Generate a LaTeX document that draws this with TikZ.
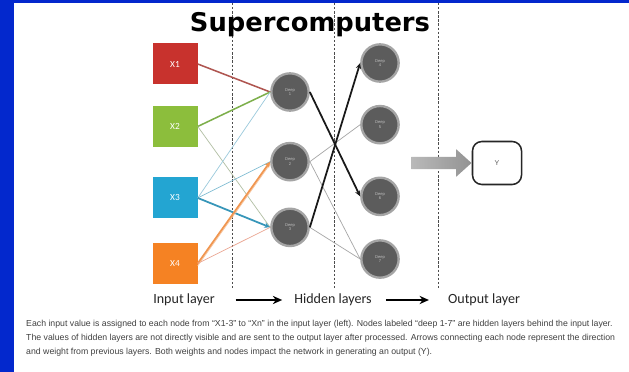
\documentclass[tikz,border=0pt]{standalone}
\usepackage{fontspec}
\setmainfont{Liberation Sans}
\newfontfamily\titlefont{DejaVu Sans}
\newfontfamily\layerfont{Carlito}
\usetikzlibrary{shapes.arrows, arrows.meta, positioning}
\definecolor{frameblue}{RGB}{3,40,205}
\definecolor{inred}{RGB}{200,50,45}
\definecolor{ingreen}{RGB}{140,190,60}
\definecolor{incyan}{RGB}{35,165,210}
\definecolor{inorange}{RGB}{245,130,35}
\definecolor{deepgray}{RGB}{92,92,92}
\definecolor{linkred}{RGB}{175,85,80}
\definecolor{linkgreen}{RGB}{125,175,75}
\definecolor{linkblue}{RGB}{55,150,185}
\definecolor{linkorange}{RGB}{240,150,80}
\definecolor{linksalmon}{RGB}{235,165,145}
\tikzstyle{inbox} = [rectangle, minimum width=1.35cm, minimum height=1.23cm, inner sep=0pt, text=white, font=\layerfont\fontsize{8}{9}\selectfont]
\tikzstyle{deep} = [circle, minimum size=1.12cm, inner sep=0pt, fill=deepgray, draw=deepgray!55, line width=2pt, text=gray!50, align=center, font=\fontsize{3.5}{3.6}\selectfont]
\tikzstyle{link} = [line width=1.3pt]
\tikzstyle{faint} = [line width=0.6pt]
\tikzstyle{arrow} = [line width=1.5pt, -{Stealth[length=5pt,width=4.5pt]}]
\tikzstyle{layer} = [font=\layerfont\fontsize{12}{14}\selectfont, text=black!85]
\tikzstyle{caption} = [font=\fontsize{7.45}{9}\selectfont, text=black!75, anchor=base west, inner sep=0pt]
\tikzstyle{sep} = [gray!60!black, line width=0.5pt, dash pattern=on 2pt off 1.5pt]

\begin{document}
\begin{tikzpicture}[x=0.03cm, y=-0.03cm]
    \useasboundingbox (0,0) rectangle (629,372);
    \fill [frameblue] (0,0) rectangle (629,372);
    \fill [white] (14,3) rectangle (629,372);

    % layer separators
    \draw [sep] (232,3) -- (232,290);
    \draw [sep] (334,3) -- (334,290);
    \draw [sep] (438,3) -- (438,290);

    \node (title) [font=\titlefont\bfseries\fontsize{22}{26}\selectfont, anchor=base] at (310,32) {Supercomputers};

    % Input layer
    \node (x1) [inbox, fill=inred] at (175,64) {X1};
    \node (x2) [inbox, fill=ingreen, below=0.63cm of x1] {X2};
    \node (x3) [inbox, fill=incyan, below=0.9cm of x2] {X3};
    \node (x4) [inbox, fill=inorange, below=0.72cm of x3] {X4};

    % Hidden layers
    \node (h1) [deep] at (290,92) {Deep\\1};
    \node (h2) [deep, below=0.9cm of h1] {Deep\\2};
    \node (h3) [deep, below=0.78cm of h2] {Deep\\3};
    \node (d4) [deep] at (380,63) {Deep\\4};
    \node (d5) [deep, below=0.66cm of d4] {Deep\\5};
    \node (d6) [deep, below=0.96cm of d5] {Deep\\6};
    \node (d7) [deep, below=0.69cm of d6] {Deep\\7};

    % Output
    \node (bigarrow) [single arrow, single arrow tip angle=84, single arrow head extend=0.225cm, minimum height=1.8cm, inner xsep=0pt, inner ysep=0.18cm, left color=gray!55, right color=gray!85] at (438,163) {};
    \node (yout) [rectangle, rounded corners=8pt, draw=black!85, line width=1.3pt, minimum width=1.47cm, minimum height=1.29cm, font=\fontsize{6}{7}\selectfont, text=gray!70!black] at (497,163) {Y};

    % Input -> hidden
    \draw [link, linkred] (x1.east) -- (h1.west);
    \draw [link, linkgreen] (x2.east) -- (h1.west);
    \draw [faint, linkgreen!45!gray!60] (x2.east) -- (h3.west);
    \draw [faint, linkblue!50] (x3.east) -- (h1.west);
    \draw [faint, linkblue!65] (x3.east) -- (h2.west);
    \draw [arrow, linkblue] (x3.east) -- (h3.west);
    \draw [faint, linkorange!55] ([yshift=-2pt]x4.east) -- ([yshift=-2pt]h2.west);
    \draw [arrow, linkorange] (x4.east) -- (h2.west);
    \draw [faint, linksalmon] (x4.east) -- (h3.west);

    % Hidden -> hidden
    \draw [faint, gray!70] (h2.east) -- (d5.west);
    \draw [faint, gray!70] (h2.east) -- (d7.west);
    \draw [faint, gray!70] (h3.east) -- (d7.west);
    \draw [arrow, black!90] (h1.east) -- (d6.west);
    \draw [arrow, black!90] (h3.east) -- (d4.west);

    % Layer names
    \node (inlab) [layer] at (184,300) {Input layer};
    \node (hidlab) [layer] at (333,300) {Hidden layers};
    \node (outlab) [layer] at (484,300) {Output layer};
    \draw [line width=1.6pt, -{Stealth[length=8pt,width=7pt]}, shorten <=0.5cm, shorten >=0.24cm] (inlab) -- (hidlab);
    \draw [line width=1.6pt, -{Stealth[length=8pt,width=7pt]}, shorten <=0.3cm, shorten >=0.45cm] (hidlab) -- (outlab);

    % Caption
    \node (cap1) [caption] at (26,326) {Each input value is assigned to each node from ``X1-3'' to ``Xn'' in the input layer (left). Nodes labeled ``deep 1-7'' are hidden layers behind the input layer.};
    \node (cap2) [caption] at (26,340) {The values of hidden layers are not directly visible and are sent to the output layer after processed. Arrows connecting each node represent the direction};
    \node (cap3) [caption] at (26,354) {and weight from previous layers. Both weights and nodes impact the network in generating an output (Y).};
\end{tikzpicture}
\end{document}
